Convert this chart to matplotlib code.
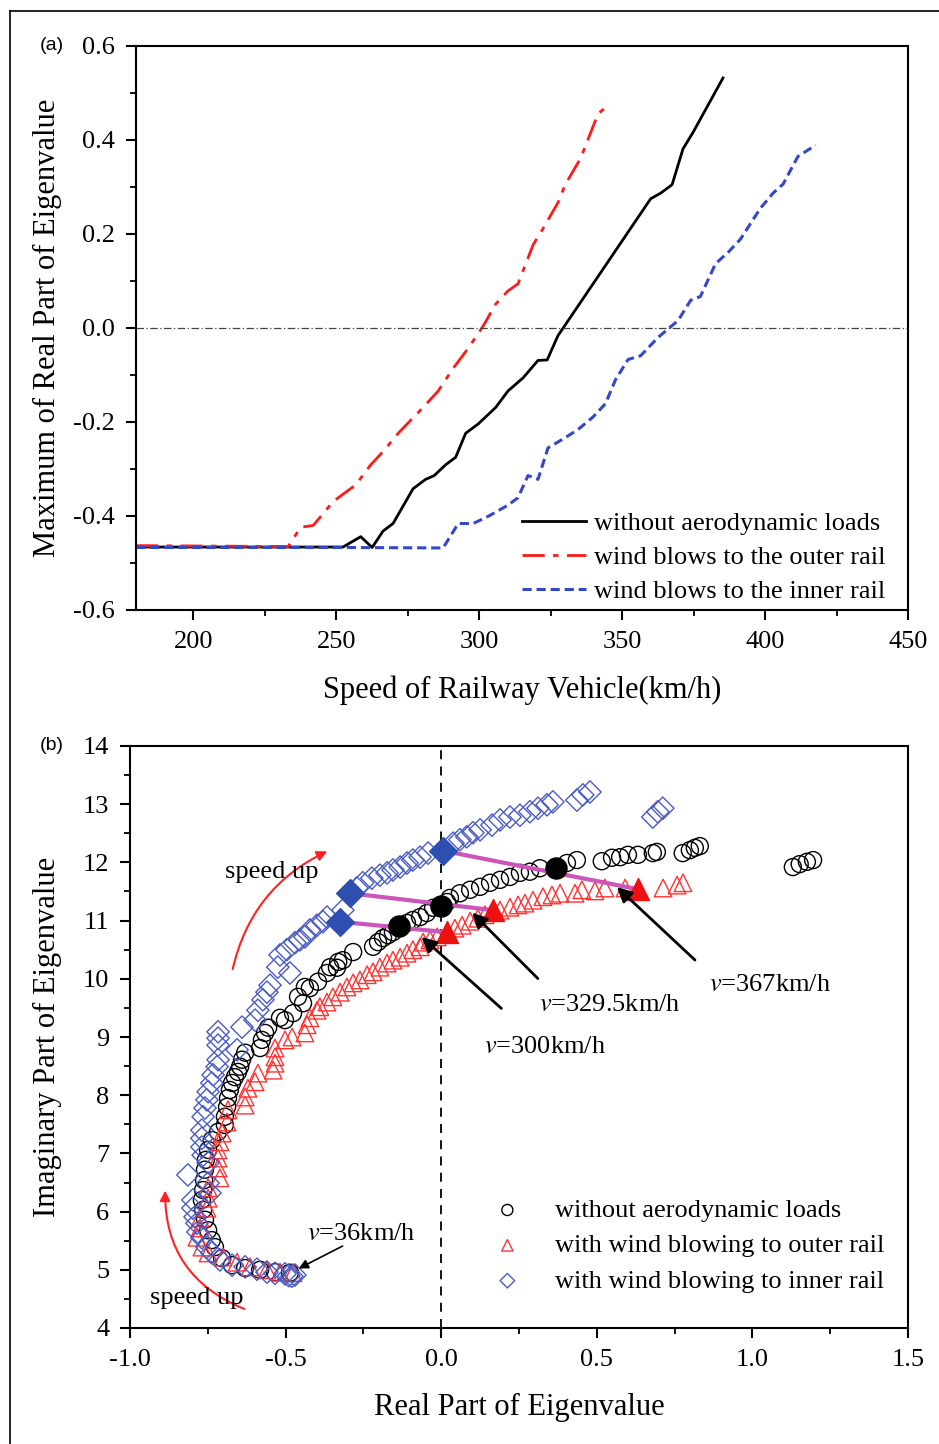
import numpy as np
import matplotlib
matplotlib.use('Agg')
import matplotlib.pyplot as plt
from matplotlib.patches import FancyArrowPatch
from matplotlib.lines import Line2D

plt.rcParams['font.family'] = 'Liberation Serif'
plt.rcParams['mathtext.fontset'] = 'stix'
plt.rcParams['axes.unicode_minus'] = False

# ---- panel (a): max real part vs speed ----
speed_none = [180, 252.4, 258.6, 262.6, 266.4, 269.9, 276.9, 281.3, 284.3, 288.3, 291.8, 295.3,
              299.7, 305.8, 310.1, 315.4, 320.6, 323.8, 327.6, 329.4, 360.0, 363.5, 367.5,
              371.3, 374.8, 385.3]
real_none = [-0.466, -0.466, -0.444, -0.467, -0.432, -0.416, -0.342, -0.322, -0.314, -0.291,
             -0.275, -0.224, -0.204, -0.169, -0.134, -0.106, -0.069, -0.068, -0.016, 0.0,
             0.275, 0.287, 0.305, 0.381, 0.416, 0.532]

speed_outer = [180, 233.2, 237.6, 242.0, 249.0, 256.8, 262.1, 266.4, 271.7, 280.4, 285.7, 290.9,
               296.2, 301.4, 305.8, 310.1, 313.6, 318.9, 322.4, 327.6, 330.2, 335.5, 341.6, 345.1]
real_outer = [-0.463, -0.465, -0.424, -0.420, -0.369, -0.334, -0.291, -0.263, -0.224, -0.169,
              -0.134, -0.086, -0.043, 0.004, 0.051, 0.079, 0.094, 0.177, 0.212, 0.267, 0.306,
              0.361, 0.456, 0.473]

speed_inner = [180, 252.4, 287.4, 292.7, 297.9, 303.1, 310.1, 313.6, 317.1, 320.6, 324.1, 329.4,
               334.6, 339.9, 344.2, 347.7, 352.1, 356.5, 362.6, 369.6, 374.0, 377.4, 382.7,
               387.1, 391.4, 398.4, 402.8, 406.3, 411.5, 417.7]
real_inner = [-0.467, -0.467, -0.468, -0.416, -0.416, -0.401, -0.377, -0.361, -0.314, -0.322,
              -0.255, -0.236, -0.216, -0.189, -0.161, -0.110, -0.067, -0.059, -0.020, 0.016,
              0.059, 0.067, 0.137, 0.161, 0.189, 0.255, 0.287, 0.306, 0.365, 0.389]

# ---- panel (b): root locus ----
re_none = [-0.486, -0.534, -0.582, -0.630, -0.672, -0.704, -0.727, -0.737, -0.749, -0.759,
           -0.765, -0.769, -0.765, -0.762, -0.759, -0.756, -0.749, -0.737, -0.717, -0.695,
           -0.695, -0.688, -0.685, -0.679, -0.672, -0.663, -0.653, -0.646, -0.640, -0.630,
           -0.582, -0.576, -0.566, -0.556, -0.518, -0.502, -0.476, -0.460, -0.444, -0.438,
           -0.422, -0.396, -0.367, -0.357, -0.335, -0.331, -0.316, -0.283, -0.219, -0.203,
           -0.187, -0.171, -0.155, -0.110, -0.091, -0.068, -0.046, -0.026, 0.019, 0.028,
           0.060, 0.093, 0.125, 0.157, 0.189, 0.221, 0.253, 0.285, 0.317, 0.404, 0.436,
           0.516, 0.549, 0.575, 0.600, 0.632, 0.680, 0.693, 0.776, 0.799, 0.815, 0.831,
           1.130, 1.152, 1.175, 1.195]
im_none = [4.95, 4.96, 5.00, 5.03, 5.08, 5.20, 5.39, 5.51, 5.68, 5.86,
           6.03, 6.20, 6.37, 6.54, 6.72, 6.89, 7.06, 7.23, 7.37, 7.49,
           7.63, 7.80, 7.95, 8.09, 8.21, 8.31, 8.40, 8.49, 8.61, 8.73,
           8.81, 8.95, 9.07, 9.16, 9.33, 9.29, 9.41, 9.69, 9.58, 9.86,
           9.84, 9.95, 10.10, 10.20, 10.19, 10.29, 10.32, 10.46, 10.55, 10.63,
           10.70, 10.75, 10.80, 10.96, 11.01, 11.06, 11.13, 11.22, 11.32, 11.39,
           11.47, 11.53, 11.58, 11.65, 11.70, 11.75, 11.82, 11.84, 11.90, 11.99, 12.04,
           12.02, 12.08, 12.09, 12.13, 12.13, 12.16, 12.18, 12.16, 12.21, 12.25, 12.28,
           11.92, 11.97, 12.01, 12.04]

re_outer = [-0.476, -0.518, -0.560, -0.614, -0.656, -0.701, -0.749, -0.769, -0.785, -0.775,
            -0.775, -0.753, -0.749, -0.749, -0.711, -0.717, -0.717, -0.717, -0.711, -0.704,
            -0.688, -0.685, -0.630, -0.630, -0.621, -0.598, -0.589, -0.540, -0.534, -0.534,
            -0.534, -0.502, -0.479, -0.438, -0.431, -0.422, -0.399, -0.390, -0.367, -0.348,
            -0.325, -0.303, -0.283, -0.261, -0.238, -0.219, -0.197, -0.174, -0.155, -0.132,
            -0.110, -0.091, -0.068, -0.058, -0.036, -0.013, 0.044, 0.067, 0.093, 0.118,
            0.141, 0.189, 0.221, 0.247, 0.269, 0.295, 0.327, 0.356, 0.382, 0.430, 0.452,
            0.494, 0.526, 0.591, 0.713, 0.758, 0.777]
im_outer = [4.95, 4.96, 5.00, 5.05, 5.13, 5.22, 5.29, 5.39, 5.56, 5.72,
            5.89, 6.06, 6.23, 6.41, 6.58, 6.75, 6.92, 7.06, 7.20, 7.35,
            7.54, 7.75, 7.83, 7.97, 8.12, 8.23, 8.38, 8.43, 8.55, 8.66,
            8.81, 8.95, 9.00, 9.07, 9.21, 9.33, 9.46, 9.52, 9.60, 9.69,
            9.77, 9.86, 9.93, 9.98, 10.07, 10.12, 10.20, 10.27, 10.32, 10.37,
            10.44, 10.50, 10.55, 10.63, 10.67, 10.72, 10.87, 10.92, 10.99, 11.04,
            11.10, 11.18, 11.23, 11.27, 11.30, 11.35, 11.41, 11.44, 11.47, 11.47, 11.53,
            11.51, 11.56, 11.56, 11.56, 11.61, 11.65]

re_inner = [-0.480, -0.490, -0.470, -0.502, -0.534, -0.560, -0.592, -0.630, -0.672, -0.711,
            -0.737, -0.753, -0.769, -0.782, -0.785, -0.791, -0.798, -0.798, -0.743, -0.749,
            -0.814, -0.749, -0.765, -0.769, -0.769, -0.769, -0.765, -0.759, -0.753, -0.749,
            -0.737, -0.733, -0.720, -0.717, -0.717, -0.717, -0.717, -0.656, -0.640, -0.598,
            -0.589, -0.573, -0.560, -0.550, -0.525, -0.486, -0.518, -0.496, -0.470, -0.454,
            -0.438, -0.422, -0.399, -0.380, -0.367, -0.316, -0.271, -0.252, -0.223, -0.197,
            -0.174, -0.155, -0.132, -0.110, -0.091, -0.068, -0.042, 0.038, 0.060, 0.082,
            0.102, 0.125, 0.163, 0.189, 0.221, 0.253, 0.285, 0.311, 0.340, 0.359, 0.436,
            0.455, 0.478, 0.680, 0.696, 0.712]
im_inner = [4.89, 4.90, 4.91, 4.93, 4.94, 4.96, 5.01, 5.05, 5.08, 5.17,
            5.29, 5.39, 5.55, 5.65, 5.80, 5.91, 6.06, 6.20, 6.32, 6.49,
            6.63, 6.84, 6.97, 7.11, 7.26, 7.40, 7.63, 7.78, 7.92, 8.06,
            8.21, 8.35, 8.49, 8.61, 8.86, 8.98, 9.09, 8.78, 9.17, 9.29,
            9.46, 9.64, 9.77, 9.89, 10.20, 10.10, 10.41, 10.50, 10.62, 10.67,
            10.72, 10.84, 10.92, 10.98, 11.06, 11.18, 11.56, 11.65, 11.73, 11.78,
            11.82, 11.87, 11.92, 11.99, 12.04, 12.09, 12.16, 12.33, 12.39, 12.44,
            12.51, 12.56, 12.64, 12.73, 12.78, 12.81, 12.87, 12.93, 12.99, 13.04, 13.07,
            13.16, 13.21, 12.78, 12.87, 12.93]

# critical points at v=300, 329.5, 367 km/h
crit_re_none = [-0.136, -0.001, 0.369]
crit_im_none = [10.91, 11.25, 11.90]
crit_re_outer = [0.019, 0.166, 0.632]
crit_im_outer = [10.80, 11.18, 11.54]
crit_re_inner = [-0.325, -0.293, 0.006]
crit_im_inner = [10.98, 11.47, 12.20]
crit_labels = [r'$v$=300km/h', r'$v$=329.5km/h', r'$v$=367km/h']
crit_text_pos = [(0.333, 8.83), (0.542, 9.55), (1.056, 9.89)]
crit_arrow_tail = [(0.20, 9.46), (0.317, 9.97), (0.822, 10.29)]
crit_arrow_head = [(-0.07, 10.75), (0.093, 11.17), (0.558, 11.61)]

fig = plt.figure(figsize=(9.39, 14.44), dpi=100)

# outer frame
fig.add_artist(Line2D([10/939, 10/939], [0, 1 - 11/1444], color='k', lw=1.2))
fig.add_artist(Line2D([10/939, 1], [1 - 11/1444, 1 - 11/1444], color='k', lw=1.2))

ax1 = fig.add_axes([136/939, 1 - 610/1444, 772/939, 564/1444])
ax1.plot(speed_none, real_none, color='k', lw=2, label='without aerodynamic loads')
ax1.plot(speed_outer, real_outer, color='#FF1A1A', lw=2, dashes=(8, 3, 2, 3),
         label='wind blows to the outer rail')
ax1.plot(speed_inner, real_inner, color='#3348C8', lw=2.2, dashes=(3, 1.6),
         label='wind blows to the inner rail')
ax1.axhline(0, color='#444444', lw=0.9, dashes=(6, 2, 1, 2))
ax1.set_xlim(180, 450)
ax1.set_ylim(-0.6, 0.6)
ax1.set_xticks([200, 250, 300, 350, 400, 450])
ax1.set_xticks(np.arange(200, 451, 25), minor=True)
ax1.set_yticks([-0.6, -0.4, -0.2, 0.0, 0.2, 0.4, 0.6])
ax1.set_yticks(np.arange(-0.6, 0.61, 0.1), minor=True)
ax1.set_yticklabels(['-0.6', '-0.4', '-0.2', '0.0', '0.2', '0.4', '0.6'])
ax1.set_xlabel('Speed of Railway Vehicle(km/h)', fontsize=22, labelpad=16)
ax1.set_ylabel('Maximum of Real Part of Eigenvalue', fontsize=22)
ax1.yaxis.set_label_coords(-(136 - 62) / 772, 0.5)
ax1.legend(loc='lower right', frameon=False, fontsize=19, handlelength=2.4,
           handletextpad=0.3, labelspacing=0.4, borderaxespad=0.0,
           bbox_to_anchor=(0.984, -0.006))
fig.text(40/939, 1 - 46/1444, '(a)', fontsize=14, family='Liberation Sans', va='center')

ax2 = fig.add_axes([130/939, 1 - 1328/1444, 778/939, 582/1444])
ax2.axvline(0, color='k', lw=1.3, dashes=(5, 4), zorder=1)
ax2.scatter(re_none, im_none, s=150, facecolors='none', edgecolors='k', lw=1.0, zorder=2,
            label='without aerodynamic loads')
ax2.scatter(re_outer, im_outer, s=160, marker='^', facecolors='none', edgecolors='#FF3333',
            lw=1.0, zorder=2, label='with wind blowing to outer rail')
ax2.scatter(re_inner, im_inner, s=130, marker='D', facecolors='none', edgecolors='#4A5CC4',
            lw=1.0, zorder=2, label='with wind blowing to inner rail')

for i in range(3):
    ax2.plot([crit_re_inner[i], crit_re_outer[i]], [crit_im_inner[i], crit_im_outer[i]],
             color='#CC55BB', lw=3, zorder=3)
ax2.scatter(crit_re_none, crit_im_none, s=230, color='k', zorder=4)
ax2.scatter(crit_re_outer, crit_im_outer, s=250, marker='^', color='#EE1111', zorder=4)
ax2.scatter(crit_re_inner, crit_im_inner, s=200, marker='D', color='#2E4FB0', zorder=4)

for lab, tp, tail, head in zip(crit_labels, crit_text_pos, crit_arrow_tail, crit_arrow_head):
    ax2.annotate('', xy=head, xytext=tail,
                 arrowprops=dict(arrowstyle='-|>', color='k', lw=2, mutation_scale=22),
                 zorder=5)
    ax2.text(tp[0], tp[1], lab, fontsize=19, ha='center', va='center')

ax2.annotate('', xy=(-0.466, 5.0), xytext=(-0.309, 5.43),
             arrowprops=dict(arrowstyle='-|>', color='k', lw=1.2, mutation_scale=14), zorder=5)
ax2.text(-0.255, 5.62, r'$v$=36km/h', fontsize=19, ha='center', va='center')

ax2.add_patch(FancyArrowPatch((-0.672, 10.12), (-0.358, 12.21), connectionstyle='arc3,rad=-0.25',
                              arrowstyle='-|>', color='#FF2222', lw=1.5, mutation_scale=15))
ax2.text(-0.543, 11.84, 'speed up', fontsize=19, ha='center', va='center')
ax2.add_patch(FancyArrowPatch((-0.624, 4.31), (-0.887, 6.41), connectionstyle='arc3,rad=-0.35',
                              arrowstyle='-|>', color='#FF2222', lw=1.5, mutation_scale=15))
ax2.text(-0.784, 4.52, 'speed up', fontsize=19, ha='center', va='center')

ax2.set_xlim(-1.0, 1.5)
ax2.set_ylim(4, 14)
ax2.set_xticks([-1.0, -0.5, 0.0, 0.5, 1.0, 1.5])
ax2.set_xticklabels(['-1.0', '-0.5', '0.0', '0.5', '1.0', '1.5'])
ax2.set_xticks(np.arange(-1.0, 1.51, 0.25), minor=True)
ax2.set_yticks(np.arange(4, 15, 1))
ax2.set_yticks(np.arange(4, 14.1, 0.5), minor=True)
ax2.set_xlabel('Real Part of Eigenvalue', fontsize=22, labelpad=16)
ax2.set_ylabel('Imaginary Part of Eigenvalue', fontsize=22)
ax2.yaxis.set_label_coords(-(130 - 62) / 778, 0.5)
ax2.legend(loc='lower right', frameon=False, fontsize=19, markerscale=0.65,
           handletextpad=0.8, labelspacing=0.45, bbox_to_anchor=(1.0, 0.02))
fig.text(40/939, 1 - 746/1444, '(b)', fontsize=14, family='Liberation Sans', va='center')

for ax in (ax1, ax2):
    for sp in ax.spines.values():
        sp.set_linewidth(1.5)
    ax.tick_params(which='major', direction='out', length=7, width=1.5, labelsize=19, pad=8)
    ax.tick_params(which='minor', direction='out', length=4, width=1.3)

fig.savefig('out.png', dpi=100)
